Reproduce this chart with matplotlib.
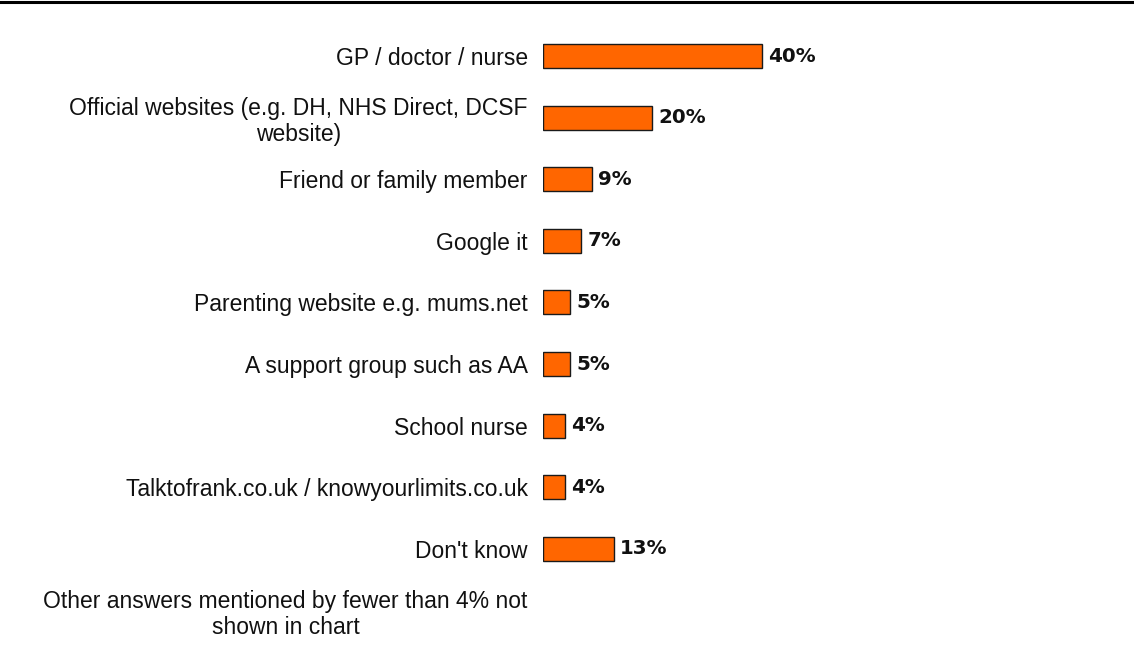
import matplotlib
matplotlib.use('Agg')
import matplotlib.pyplot as plt
import numpy as np

categories = [
    'GP / doctor / nurse',
    'Official websites (e.g. DH, NHS Direct, DCSF\nwebsite)',
    'Friend or family member',
    'Google it',
    'Parenting website e.g. mums.net',
    'A support group such as AA',
    'School nurse',
    'Talktofrank.co.uk / knowyourlimits.co.uk',
    "Don't know",
    'Other answers mentioned by fewer than 4% not\nshown in chart',
]
values = [40, 20, 9, 7, 5, 5, 4, 4, 13, None]
value_labels = ['40%', '20%', '9%', '7%', '5%', '5%', '4%', '4%', '13%', '']

W, H = 1134, 660
fig = plt.figure(figsize=(W / 100, H / 100), dpi=100)

# top rule across the whole figure
fig.add_artist(plt.Line2D([0, 1], [1 - 1.5 / H, 1 - 1.5 / H], color='black', lw=2.2,
                          transform=fig.transFigure))

row = 61.6
top = 56 - row / 2
bottom = top + row * len(categories)
left = 543
px_per_pct = 5.47
ax_w = 560
ax = fig.add_axes([left / W, 1 - bottom / H, ax_w / W, (bottom - top) / H])

y = np.arange(len(categories))
bar_vals = [v if v is not None else 0 for v in values]
bars = ax.barh(y, bar_vals, height=0.39, color='#FF6600', edgecolor='#1a1a1a', linewidth=1.0)
for b, v, lab in zip(bars, bar_vals, value_labels):
    if not lab:
        b.set_visible(False)  # last row is a note only, no bar
        continue
    ax.text(v + 6 / px_per_pct, b.get_y() + b.get_height() / 2, lab,
            va='center', ha='left', fontsize=14.3, fontweight='bold',
            family='DejaVu Sans', color='#111111')

ax.set_xlim(0, ax_w / px_per_pct)
ax.set_ylim(len(categories) - 0.5, -0.5)
ax.set_yticks(y)
ax.set_yticklabels(categories, fontsize=16.5, family='Liberation Sans',
                   multialignment='center', linespacing=1.15, color='#111111')
ax.tick_params(axis='y', length=0, pad=11)
ax.set_xticks([])
for s in ax.spines.values():
    s.set_visible(False)

fig.savefig('out.png', dpi=100)
